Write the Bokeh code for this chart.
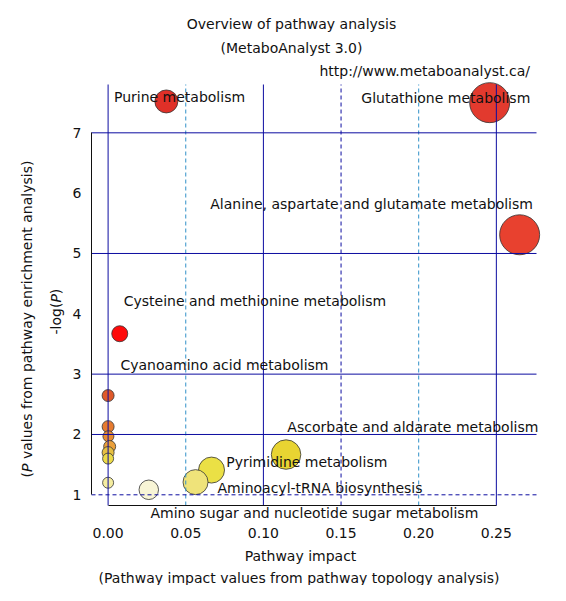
import math
from bokeh.plotting import figure
from bokeh.models import Label, FixedTicker, NumeralTickFormatter, Range1d, ColumnDataSource
from bokeh.embed import file_html
from bokeh.resources import INLINE

# ---------------- data ----------------
pathway = [
    "Purine metabolism",
    "Glutathione metabolism",
    "Alanine, aspartate and glutamate metabolism",
    "Cysteine and methionine metabolism",
    "Cyanoamino acid metabolism",
    "",
    "",
    "",
    "",
    "Ascorbate and aldarate metabolism",
    "",
    "Pyrimidine metabolism",
    "Aminoacyl-tRNA biosynthesis",
    "",
    "Amino sugar and nucleotide sugar metabolism",
]
impact = [0.0375, 0.2457, 0.265, 0.0075, 0.0, 0.0, 0.0002, 0.001, 0.0,
          0.1146, 0.0, 0.0666, 0.0563, 0.0, 0.0262]
neg_log_p = [7.52, 7.50, 5.31, 3.67, 2.645, 2.13, 1.97, 1.80, 1.70,
             1.667, 1.60, 1.41, 1.21, 1.20, 1.083]
x_ticks = [0.0, 0.05, 0.10, 0.15, 0.20, 0.25]
y_ticks = [1, 2, 3, 4, 5, 6, 7]
v_lines_solid = [0.0, 0.10, 0.25]
v_lines_dash_light = [0.05, 0.20]
v_lines_dash_dark = [0.15]
h_lines_solid = [2, 3, 5, 7]
h_lines_dash = [1]

# ---------------- styles ----------------
bubble_size = [23, 40, 40, 16, 12, 12, 11, 12, 12, 29.5, 11, 26, 25, 11, 19.5]
bubble_color = ["#e03028", "#e23a2e", "#e8412f", "#ff0a0a", "#e0592a", "#e67b30",
                "#e88c32", "#eba03a", "#e6bf42", "#e8d432", "#ecda48", "#ebe045",
                "#efe37a", "#f5eda0", "#f8f5d6"]
# label placement relative to its bubble (pixels, right / down) and alignment
label_dx = [-52.4, -128.3, 13.3, 4, 12.3, 0, 0, 0, 0, 1.3, 0, 14.7, 22, 0, 1.7]
label_dy = [-4.3, -4.3, -30.7, -32.6, -30.7, 0, 0, 0, 0, -27.3, 0, -8.3, 5.6, 0, 23.4]
label_align = ["left", "left", "right", "left", "left", "left", "left", "left", "left",
               "left", "left", "left", "left", "left", "left"]

FONT = "DejaVu Sans"
FS = "14px"
TXT = "#111111"
NAVY = "#0c0ca0"
LIGHT = "#3090c8"

W, H = 550, 585
# pixel scale of the reference: x = 0 at 107.6 px, 1553 px per unit;
# y = 1 at 494.3 px, 60.33 px per unit
X0, X1 = -107.6 / 1553, (W - 107.6) / 1553
Y1, Y0 = 1 + 494.3 / 60.33, 1 + (494.3 - H) / 60.33
# R plot region (where the reference lines end)
RX0, RX1 = (91 - 107.6) / 1553, (536 - 107.6) / 1553
RY0, RY1 = 1 + (494.3 - 505) / 60.33, 1 + (494.3 - 84) / 60.33


def px2x(px):
    return X0 + px * (X1 - X0) / W


def py2y(py):
    return Y1 - py * (Y1 - Y0) / H


p = figure(width=W, height=H, x_range=Range1d(X0, X1), y_range=Range1d(Y0, Y1),
           output_backend="svg", toolbar_location=None,
           min_border_left=0, min_border_right=0, min_border_top=0, min_border_bottom=0)
p.outline_line_color = None
p.grid.visible = False
p.background_fill_color = "white"
p.border_fill_color = "white"

for ax in (p.xaxis[0], p.yaxis[0]):
    ax.axis_line_color = "#111111"
    ax.axis_line_width = 1
    ax.major_tick_in = 0
    ax.major_tick_out = 0
    ax.minor_tick_line_color = None
    ax.major_label_text_font = FONT
    ax.major_label_text_font_size = FS
    ax.major_label_text_color = TXT

p.xaxis.ticker = FixedTicker(ticks=x_ticks)
p.xaxis.formatter = NumeralTickFormatter(format="0.00")
p.xaxis.bounds = (x_ticks[0], x_ticks[-1])
p.xaxis.fixed_location = RY0
p.xaxis.major_label_standoff = 22
p.yaxis.ticker = FixedTicker(ticks=y_ticks)
p.yaxis.bounds = (y_ticks[0], y_ticks[-1])
p.yaxis.fixed_location = RX0
p.yaxis.major_label_standoff = 10

# bubbles
src = ColumnDataSource(dict(x=impact, y=neg_log_p, s=bubble_size, c=bubble_color))
p.scatter("x", "y", size="s", fill_color="c", line_color="#333333", line_width=0.8,
          marker="circle", source=src)


# reference lines (drawn over the bubbles, as in the reference)
def vlines(xs, color, dash):
    p.segment(x0=xs, y0=[RY0] * len(xs), x1=xs, y1=[RY1] * len(xs),
              line_color=color, line_width=1, line_dash=dash)


def hlines(ys, color, dash):
    p.segment(x0=[RX0] * len(ys), y0=ys, x1=[RX1] * len(ys), y1=ys,
              line_color=color, line_width=1, line_dash=dash)


vlines(v_lines_solid, NAVY, "solid")
vlines(v_lines_dash_light, LIGHT, "4 3")
vlines(v_lines_dash_dark, NAVY, "4 3")
hlines(h_lines_solid, NAVY, "solid")
hlines(h_lines_dash, NAVY, "4 3")

# bubble labels
for name, xv, yv, dx, dy, al in zip(pathway, impact, neg_log_p, label_dx, label_dy, label_align):
    if name:
        p.add_layout(Label(x=xv, y=yv, x_offset=dx, y_offset=-dy, text=name,
                           text_font=FONT, text_font_size=FS, text_color=TXT,
                           text_align=al, text_baseline="middle"))


def page_text(text, px, py, align="center", angle=0.0, style="normal"):
    p.add_layout(Label(x=px2x(px), y=py2y(py), text=text, text_font=FONT,
                       text_font_size=FS, text_color=TXT, text_align=align,
                       text_baseline="middle", angle=angle, text_font_style=style))


page_text("Overview of pathway analysis", 291, 23)
page_text("(MetaboAnalyst 3.0)", 291, 47)
page_text("http://www.metaboanalyst.ca/", 529.5, 70, align="right")
page_text("Pathway impact", 300, 555)
page_text("(Pathway impact values from pathway topology analysis)", 298.5, 577.5)

# rotated y titles with italic P (pieces, reading upward)
up = math.pi / 2
b1 = 334
page_text("-log(", 55, b1, align="left", angle=up)
page_text("P", 55, b1 - 31.9, align="left", angle=up, style="italic")
page_text(")", 55, b1 - 40.3, align="left", angle=up)

b2 = 477
page_text("(", 26, b2, align="left", angle=up)
page_text("P", 26, b2 - 5.5, align="left", angle=up, style="italic")
page_text("values from pathway enrichment analysis)", 26, b2 - 18.4, align="left", angle=up)

open("out.html", "w").write(file_html(p, INLINE))
